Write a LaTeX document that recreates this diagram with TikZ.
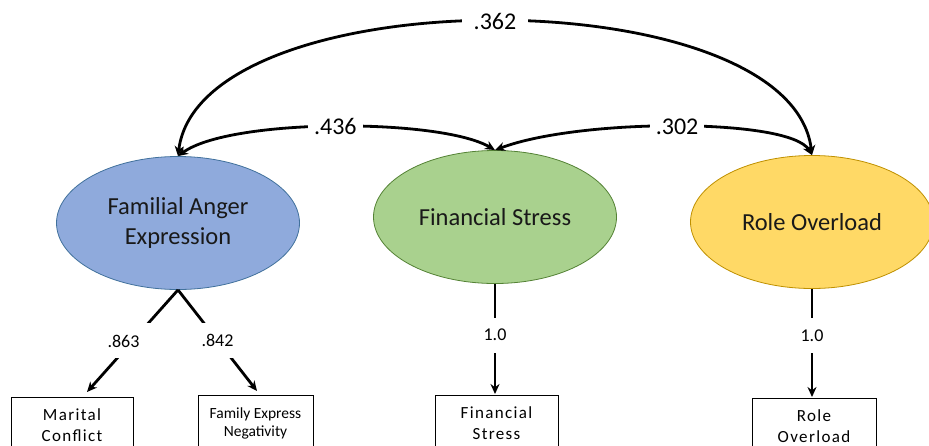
\documentclass[tikz,border=0pt]{standalone}
\usepackage{fontspec}
\setmainfont{Carlito}
\newfontfamily\spacedfont[LetterSpace=8]{Carlito}
\usetikzlibrary{arrows.meta,shapes.geometric}
\definecolor{bluef}{HTML}{8FAADC}
\definecolor{blued}{HTML}{41719C}
\definecolor{greenf}{HTML}{A9D18E}
\definecolor{greend}{HTML}{548235}
\definecolor{yellowf}{HTML}{FFD966}
\definecolor{yellowd}{HTML}{BF9000}
\begin{document}
\begin{tikzpicture}[x=1pt,y=-1pt,
  latent/.style={ellipse, draw, line width=0.8pt, minimum width=243pt, minimum height=133pt,
    inner sep=0pt, align=center, text=black!90, font=\fontsize{24.5}{30}\selectfont},
  obs/.style={rectangle, draw=black, line width=0.8pt, minimum height=56pt, inner sep=0pt, align=center},
  spacedtext/.style={font=\spacedfont\fontsize{17}{21}\selectfont},
  cov/.style={line width=2.8pt, {Stealth[length=10pt,width=9pt]}-{Stealth[length=10pt,width=9pt]}},
  load/.style={line width=2.8pt, -{Stealth[length=10pt,width=9pt]}},
  covlab/.style={fill=white, font=\fontsize{24}{28}\selectfont, inner ysep=2pt},
  loadlab/.style={fill=white, font=\fontsize{18}{20}\selectfont, minimum height=35pt, inner xsep=1pt},
]
\useasboundingbox (0,0) rectangle (929,445);
\clip (0,0) rectangle (929,445);

% latent variables
\node[latent, fill=bluef, draw=blued] (fae) at (178,223) {Familial Anger\\Expression};
\node[latent, fill=greenf, draw=greend] (fs) at (495,217) {Financial Stress};
\node[latent, fill=yellowf, draw=yellowd] (ro) at (812,222) {Role Overload};

% observed variables
\node[obs, minimum width=122pt, spacedtext] (mc) at (72,425) {Marital\\Conflict};
\node[obs, minimum width=115pt, font=\fontsize{15.5}{18}\selectfont] (fen) at (255.5,423) {Family Express\\Negativity};
\node[obs, minimum width=123pt, spacedtext] (fsb) at (496.5,423) {Financial\\Stress};
\node[obs, minimum width=124pt, spacedtext] (rob) at (814,426) {Role\\Overload};

% arrow end points above the boxes
\coordinate (mcin) at (87,392);
\coordinate (fenin) at (257,391);
\coordinate (fsin) at (495,394);
\coordinate (roin) at (812,397);

% loadings
\draw[load] (fae.south) -- node[loadlab]{\makebox[50pt][l]{.863}} (mcin);
\draw[load] (fae.south) -- node[loadlab]{.842} (fenin);
\draw[load] (fs.south) -- node[loadlab, pos=0.466]{1.0} (fsin);
\draw[load] (ro.south) -- node[loadlab, pos=0.43]{1.0} (roin);

% covariances
\draw[cov] (fae.north) .. controls (200,-23) and (790,-23) .. node[covlab, inner xsep=12pt]{.362} (ro.north);
\draw[cov] (fae.north) .. controls (230,118) and (440,118) .. node[covlab, inner xsep=6pt]{.436} (fs.north);
\draw[cov] (fs.north) .. controls (580,118) and (790,118) .. node[covlab, inner xsep=6pt]{.302} (ro.north);
\end{tikzpicture}
\end{document}
